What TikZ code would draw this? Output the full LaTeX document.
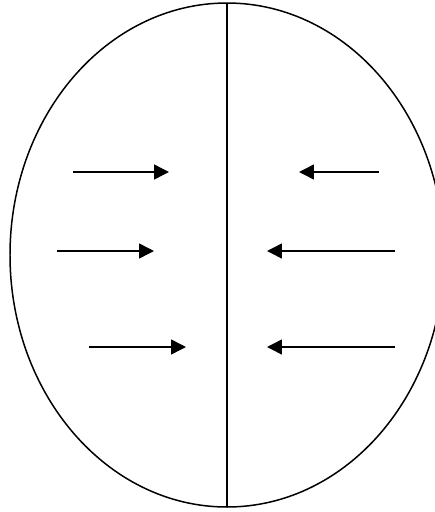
\documentclass[tikz,border=0pt]{standalone}
\usetikzlibrary{arrows.meta}

\begin{document}
\begin{tikzpicture}[x=0.02cm,y=-0.02cm,
    wall/.style={line width=0.85pt},
    push/.style={line width=0.85pt,-{Triangle[length=8.5pt,width=8.5pt]}}]
    \useasboundingbox (0,0) rectangle (435,512);
    \clip (0,0) rectangle (435,512);
    % Outer ellipse (cut off on the right)
    \draw[wall] (227,255) ellipse [x radius=217, y radius=252];
    % Dividing line
    \coordinate (top) at (227,3);
    \coordinate (bot) at (227,507);
    \draw[wall] (top) -- (bot);
    % Arrows on the left, pointing right
    \foreach \n/\a/\b/\y in {1/73/169/172,2/57/154/251,3/89/186/347} {
      \coordinate (ls\n) at (\a,\y);
      \coordinate (le\n) at (\b,\y);
      \draw[push] (ls\n) -- (le\n);
    }
    % Arrows on the right, pointing left
    \foreach \n/\a/\b/\y in {1/379/299/172,2/395/267/251,3/395/267/347} {
      \coordinate (rs\n) at (\a,\y);
      \coordinate (re\n) at (\b,\y);
      \draw[push] (rs\n) -- (re\n);
    }
  \end{tikzpicture}
\end{document}
